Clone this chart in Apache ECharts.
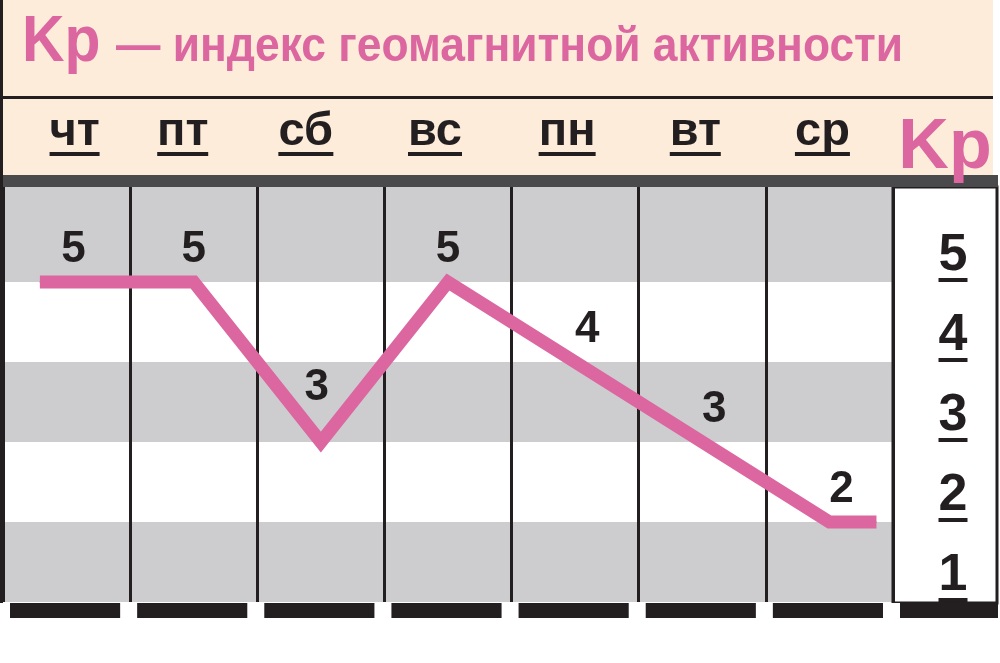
<!DOCTYPE html>
<html>
<head>
<meta charset="utf-8">
<script src="https://cdn.jsdelivr.net/npm/echarts@6/dist/echarts.min.js"></script>
<style>
  html, body { margin: 0; padding: 0; background: #fff; }
  #main { width: 1000px; height: 663px; }
</style>
</head>
<body>
<div id="main"></div>
<script>
// данные
const days = ['чт', 'пт', 'сб', 'вс', 'пн', 'вт', 'ср'];
const kpValues = [5, 5, 3, 5, 4, 3, 2];
const kpLevels = [1, 2, 3, 4, 5];

// оформление
const PINK = '#dc67a0';
const INK = '#231f20';
const GRAY = '#cdcdcf';
const PEACH = '#fdecda';
const FONT = '"Liberation Sans", Arial, sans-serif';
const labelNudge = [[7, 0], [0, 0], [-4, -22], [0, 0], [12, 0], [12, 0], [12, 0]];
const dayNudge = [8, -11, -15, -13, -8, -7, -7];
const leadIn = 0.21;   // линия начинается левее первой точки
const tail = 0.37;     // и заканчивается правее последней

const ctx = document.createElement('canvas').getContext('2d');
function textW(t, font) {
  ctx.font = font;
  return Math.round(ctx.measureText(t).width);
}

// подчёркивания для подписей дней и уровней
const dayRich = { t: { fontFamily: FONT, fontWeight: 'bold', fontSize: 47, color: INK, lineHeight: 40 } };
days.forEach((d, i) => {
  dayRich['u' + i] = { width: textW(d, 'bold 47px ' + FONT), height: 4, lineHeight: 4, backgroundColor: INK, fontSize: 4 };
});
const dayData = days.map((d, i) => {
  const n = dayNudge[i];
  return { value: d, textStyle: { padding: [0, n < 0 ? -2 * n : 0, 0, n > 0 ? 2 * n : 0] } };
});
const levelRich = { n: { fontFamily: FONT, fontWeight: 'bold', fontSize: 52, color: INK, lineHeight: 44 } };
kpLevels.forEach(k => {
  levelRich['u' + k] = { width: textW(String(k), 'bold 52px ' + FONT), height: 4, lineHeight: 4, backgroundColor: INK, fontSize: 4 };
});

const last = kpValues.length - 1;
const lineData = [{ value: [0.5 - leadIn, kpValues[0]], label: { show: false } }]
  .concat(kpValues.map((v, i) => ({ value: [i + 0.5, v], label: { offset: labelNudge[i] } })))
  .concat([{ value: [last + 0.5 + tail, kpValues[last]], label: { show: false } }]);

// заголовок: узкое начертание через scaleX
const titleKp = 'Kp';
const titleRest = '— индекс геомагнитной активности';
const kpFont = 'bold 64px ' + FONT;
const restFont = 'bold 48px ' + FONT;
const restScale = 787 / textW(titleRest, restFont);

const myChart = echarts.init(document.getElementById('main'));

const option = {
  backgroundColor: '#fff',
  animation: false,
  grid: { left: 3, right: 107, top: 186, bottom: 61 },
  xAxis: [
    {
      type: 'category',
      position: 'top',
      data: dayData,
      boundaryGap: true,
      axisLine: { show: false },
      axisTick: { show: false },
      splitLine: { show: false },
      axisLabel: {
        margin: 30,
        formatter: (v, i) => '{t|' + v + '}\n{u' + i + '| }',
        rich: dayRich
      }
    },
    {
      type: 'value',
      position: 'bottom',
      min: 0,
      max: days.length,
      interval: 1,
      axisLine: { show: false },
      axisTick: { show: false },
      axisLabel: { show: false },
      splitLine: { show: true, lineStyle: { color: INK, width: 3 } }
    }
  ],
  yAxis: {
    type: 'value',
    position: 'right',
    min: 1,
    max: 6.2,
    interval: 1,
    axisLine: { show: false },
    axisTick: { show: false },
    splitLine: { show: false },
    splitArea: {
      show: true,
      areaStyle: { color: [GRAY, '#fff', GRAY, '#fff', GRAY, GRAY] }
    },
    axisLabel: {
      margin: 60,
      align: 'center',
      verticalAlign: 'bottom',
      formatter: v => kpLevels.includes(v) ? '{n|' + v + '}\n{u' + v + '| }' : '',
      rich: levelRich
    }
  },
  series: [{
    type: 'line',
    xAxisIndex: 1,
    data: lineData,
    symbol: 'circle',
    symbolSize: 1,
    itemStyle: { color: PINK },
    lineStyle: { color: PINK, width: 13, join: 'miter', cap: 'butt' },
    label: {
      show: true,
      position: 'top',
      distance: 10,
      fontFamily: FONT,
      fontWeight: 'bold',
      fontSize: 44,
      color: INK
    },
    z: 5
  }],
  graphic: [
    { type: 'rect', id: 'peach', z: -10, shape: { x: 0, y: 0, width: 993, height: 175 }, style: { fill: PEACH } },
    { type: 'rect', id: 'leftEdge', z: 50, shape: { x: 0, y: 0, width: 3, height: 603 }, style: { fill: INK } },
    { type: 'rect', id: 'titleRule', z: 50, shape: { x: 0, y: 96, width: 993, height: 3 }, style: { fill: INK } },
    { type: 'rect', id: 'darkBar', z: 50, shape: { x: 3, y: 175, width: 995, height: 12 }, style: { fill: '#4a4a4c' } },
    { type: 'rect', id: 'kpBox', z: 40, shape: { x: 893, y: 187, width: 104, height: 416 }, style: { fill: 'transparent', stroke: INK, lineWidth: 3 } },
    {
      type: 'text', id: 'titleKp', z: 50, x: 22, y: 43, scaleX: 0.92,
      style: { text: titleKp, fill: PINK, font: kpFont, align: 'left', verticalAlign: 'middle' }
    },
    {
      type: 'text', id: 'titleRest', z: 50, x: 116, y: 48, scaleX: restScale,
      style: { text: titleRest, fill: PINK, font: restFont, align: 'left', verticalAlign: 'middle' }
    },
    {
      type: 'text', id: 'kpHead', z: 55, x: 945, y: 149,
      style: { text: 'Kp', fill: PINK, fontFamily: FONT, fontWeight: 'bold', fontSize: 70, align: 'center', verticalAlign: 'middle' }
    },
    { type: 'rect', id: 'bottomBar', z: 50, shape: { x: 3, y: 603, width: 995, height: 15 }, style: { fill: INK } }
  ]
};

myChart.setOption(option);

// белые просветы в нижней полосе у границ столбцов
const gaps = [];
for (let b = 0; b <= days.length; b++) {
  const px = myChart.convertToPixel({ xAxisIndex: 1 }, b);
  gaps.push({ type: 'rect', id: 'gap' + b, z: 60, shape: { x: px - 10, y: 603, width: 17, height: 15 }, style: { fill: '#fff' } });
}
myChart.setOption({ graphic: gaps });
</script>
</body>
</html>
